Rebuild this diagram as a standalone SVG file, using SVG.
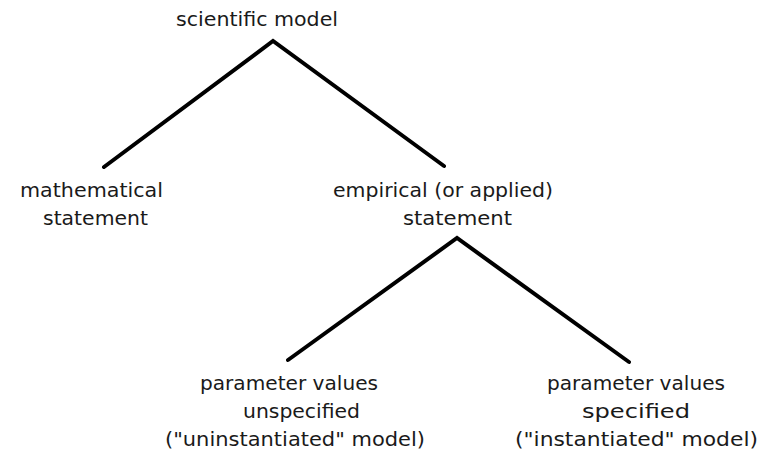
<svg xmlns="http://www.w3.org/2000/svg" width="763" height="453" viewBox="0 0 763 453">
  <style>
    .label { font-family: "DejaVu Sans", "Liberation Sans", sans-serif; font-size: 20px; fill: #1a1a1a; }
    .branch { fill: none; stroke: #000; stroke-width: 4; stroke-linejoin: miter; stroke-linecap: round; }
  </style>
  <rect width="763" height="453" fill="#fff"/>

  <!-- branches of the classification tree -->
  <g id="connectors">
    <polyline class="branch" points="104,167 273,41 444,166"/>
    <polyline class="branch" points="288,360 457,238 629,362"/>
  </g>

  <g id="scientific-model">
    <text class="label" x="176" y="26" textLength="162" lengthAdjust="spacingAndGlyphs">scientific model</text>
  </g>

  <g id="mathematical-statement">
    <text class="label" x="20" y="197" textLength="143" lengthAdjust="spacingAndGlyphs">mathematical</text>
    <text class="label" x="43" y="225" textLength="105" lengthAdjust="spacingAndGlyphs">statement</text>
  </g>

  <g id="empirical-statement">
    <text class="label" x="333" y="197" textLength="220" lengthAdjust="spacingAndGlyphs">empirical (or applied)</text>
    <text class="label" x="403" y="225" textLength="109" lengthAdjust="spacingAndGlyphs">statement</text>
  </g>

  <g id="parameters-unspecified">
    <text class="label" x="200" y="390" textLength="178" lengthAdjust="spacingAndGlyphs">parameter values</text>
    <text class="label" x="243" y="418" textLength="117" lengthAdjust="spacingAndGlyphs">unspecified</text>
    <text class="label" x="165" y="446" textLength="260" lengthAdjust="spacingAndGlyphs">("uninstantiated" model)</text>
  </g>

  <g id="parameters-specified">
    <text class="label" x="547" y="390" textLength="178" lengthAdjust="spacingAndGlyphs">parameter values</text>
    <text class="label" x="582" y="418" textLength="108" lengthAdjust="spacingAndGlyphs">specified</text>
    <text class="label" x="515" y="446" textLength="243" lengthAdjust="spacingAndGlyphs">("instantiated" model)</text>
  </g>
</svg>
